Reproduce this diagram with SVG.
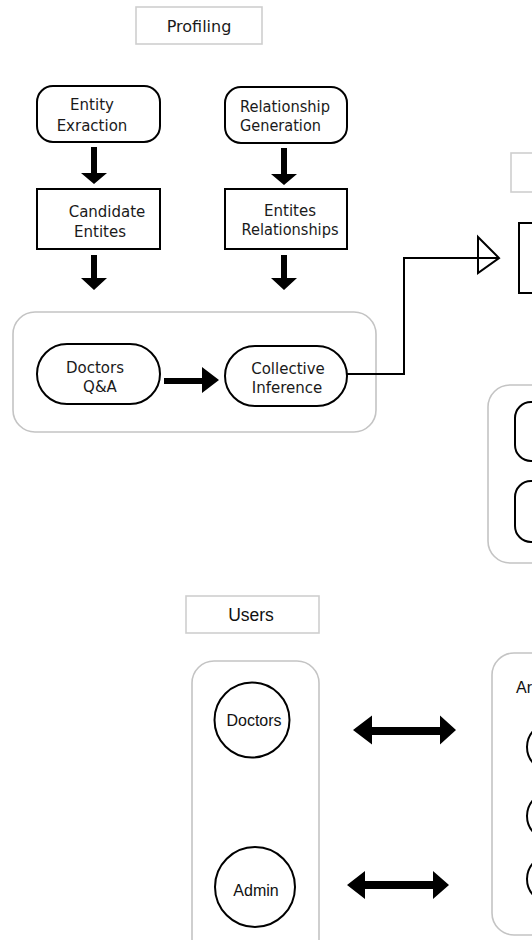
<svg xmlns="http://www.w3.org/2000/svg" width="532" height="940" viewBox="0 0 532 940">
<style>
.bg{fill:#ffffff}
.title{fill:#ffffff;stroke:#cfcfcf;stroke-width:1.6}
.cont{fill:none;stroke:#c4c4c4;stroke-width:1.6}
.node{fill:#ffffff;stroke:#000000;stroke-width:2}
.t{font-family:"DejaVu Sans",sans-serif;font-size:15px;fill:#1a1a1a;text-anchor:middle}
.tl{font-family:"DejaVu Sans",sans-serif;font-size:15px;fill:#1a1a1a}
.h{font-family:"Liberation Sans",Arial,sans-serif;font-size:16px;fill:#111111;text-anchor:middle}
.fat{fill:#000000}
.line{fill:none;stroke:#000000;stroke-width:2}
</style>
<rect class="bg" x="0" y="0" width="532" height="940"/>

<g id="profiling-title">
  <rect class="title" x="136" y="7" width="126" height="37"/>
  <text class="t" x="199" y="32" style="font-size:16px">Profiling</text>
</g>

<g id="profiling-group">
  <rect class="cont" x="13" y="312" width="363" height="120" rx="22"/>
</g>

<g id="entity-extraction">
  <rect class="node" x="37" y="86" width="123" height="56" rx="16"/>
  <text class="t" x="92" y="110">Entity</text>
  <text class="t" x="92" y="131">Exraction</text>
</g>

<g id="relationship-generation">
  <rect class="node" x="225" y="87" width="122" height="56" rx="16"/>
  <text class="tl" x="240" y="112" textLength="90" lengthAdjust="spacingAndGlyphs">Relationship</text>
  <text class="tl" x="240" y="131" textLength="81" lengthAdjust="spacingAndGlyphs">Generation</text>
</g>

<g id="candidate-entites">
  <rect class="node" x="37" y="189" width="123" height="60"/>
  <text class="t" x="107" y="217">Candidate</text>
  <text class="t" x="100" y="237">Entites</text>
</g>

<g id="entites-relationships">
  <rect class="node" x="225" y="189" width="122" height="60"/>
  <text class="t" x="290" y="216">Entites</text>
  <text class="t" x="290" y="235" textLength="97" lengthAdjust="spacingAndGlyphs">Relationships</text>
</g>

<g id="doctors-qa">
  <rect class="node" x="37" y="344" width="123" height="60" rx="30"/>
  <text class="t" x="95" y="373">Doctors</text>
  <text class="t" x="100" y="392">Q&amp;A</text>
</g>

<g id="collective-inference">
  <rect class="node" x="225" y="346" width="122" height="60" rx="30"/>
  <text class="t" x="288" y="374">Collective</text>
  <text class="t" x="287" y="393">Inference</text>
</g>

<g id="right-title">
  <rect class="title" x="511" y="153" width="40" height="39"/>
</g>

<g id="right-box">
  <rect class="node" x="519" y="223" width="40" height="70"/>
</g>

<g id="right-group">
  <rect class="cont" x="488" y="385" width="80" height="178" rx="22"/>
  <rect class="node" x="515" y="402" width="50" height="59" rx="16"/>
  <rect class="node" x="515" y="481" width="50" height="61" rx="16"/>
</g>

<g id="users-title">
  <rect class="title" x="186" y="596" width="133" height="37"/>
  <text class="h" x="251" y="621" style="font-size:17.5px">Users</text>
</g>

<g id="users-group">
  <rect class="cont" x="192" y="661" width="127" height="300" rx="22"/>
</g>

<g id="doctors">
  <circle class="node" cx="252" cy="720" r="37.5"/>
  <text class="h" x="254" y="726">Doctors</text>
</g>

<g id="admin">
  <circle class="node" cx="255" cy="887" r="40"/>
  <text class="h" x="256" y="896">Admin</text>
</g>

<g id="ar-group">
  <rect class="cont" x="492" y="653" width="80" height="282" rx="22"/>
  <text class="h" x="516" y="693" style="text-anchor:start">Ar</text>
  <circle class="node" cx="551" cy="747" r="24"/>
  <circle class="node" cx="551" cy="816" r="24"/>
  <circle class="node" cx="551" cy="879" r="24"/>
</g>

<g id="connectors">
  <polygon class="fat" points="91,147 97,147 97,173 107,173 94,184 81,173 91,173"/>
  <polygon class="fat" points="91,255 97,255 97,278 107,278 94,290 81,278 91,278"/>
  <polygon class="fat" points="281,148 287,148 287,174 297,174 284,185 271,174 281,174"/>
  <polygon class="fat" points="281,255 287,255 287,278 297,278 284,290 271,278 281,278"/>
  <polygon class="fat" points="164,378 202,378 202,367 219,380 202,393 202,384 164,384"/>
  <polyline class="line" points="347,374 404,374 404,258 499,258"/>
  <polygon class="line" points="478,237 499,258 478,273" style="fill:#ffffff"/>
  <line class="line" x1="478" y1="258" x2="499" y2="258"/>
  <polygon class="fat" points="353,730 372,715.5 372,727 440,727 440,715.5 456,730 440,744.5 440,735 372,735 372,744.5"/>
  <polygon class="fat" points="347,885 365,871 365,881 433,881 433,871 449,885 433,899 433,889 365,889 365,899"/>
</g>
</svg>
